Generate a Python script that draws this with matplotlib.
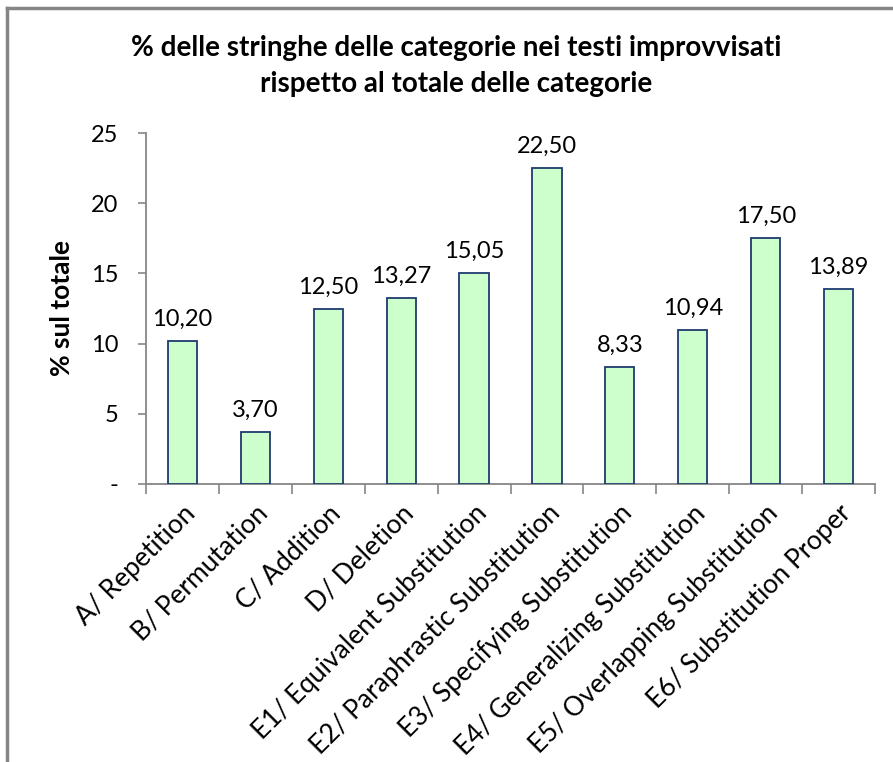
import matplotlib
matplotlib.use("Agg")
import matplotlib.pyplot as plt
from matplotlib.lines import Line2D
import numpy as np

categories = [
    "A/ Repetition",
    "B/ Permutation",
    "C/ Addition",
    "D/ Deletion",
    "E1/ Equivalent Substitution",
    "E2/ Paraphrastic Substitution",
    "E3/ Specifying Substitution",
    "E4/ Generalizing Substitution",
    "E5/ Overlapping Substitution",
    "E6/ Substitution Proper",
]
values = [10.20, 3.70, 12.50, 13.27, 15.05, 22.50, 8.33, 10.94, 17.50, 13.89]
y_ticks = [0, 5, 10, 15, 20, 25]
y_tick_labels = ["-", "5", "10", "15", "20", "25"]

title = "% delle stringhe delle categorie nei testi improvvisati\nrispetto al totale delle categorie"
y_label = "% sul totale"

plt.rcParams["font.family"] = ["Lato", "DejaVu Sans"]

fig = plt.figure(figsize=(8.93, 7.62), dpi=100)
ax = fig.add_axes([146 / 893, 278 / 762, (875 - 146) / 893, 351 / 762])

x = np.arange(len(categories))
ax.bar(x, values, width=0.4, color="#CCFFCC", edgecolor="#1F3A6E", linewidth=1.3, zorder=3)

for xi, v in zip(x, values):
    ax.annotate(f"{v:.2f}".replace(".", ","), (xi, v), xytext=(0, 8), textcoords="offset points",
                ha="center", va="bottom", fontsize=17)

ax.set_xlim(-0.5, len(categories) - 0.5)
ax.set_ylim(0, 25)
ax.set_yticks(y_ticks)
ax.set_yticklabels(y_tick_labels, fontsize=17)

# category separators as ticks on the x axis
ax.set_xticks(np.arange(len(categories) + 1) - 0.5)
ax.set_xticklabels([])
ax.set_xticks(x, minor=True)
ax.set_xticklabels(categories, minor=True, rotation=45, ha="right", rotation_mode="anchor", fontsize=19)
ax.tick_params(axis="x", which="major", length=7, width=1.2, color="#868686", direction="out")
ax.tick_params(axis="x", which="minor", length=0, pad=12)
ax.tick_params(axis="y", length=6, width=1.2, color="#868686", direction="out", pad=14)

for side in ["top", "right"]:
    ax.spines[side].set_visible(False)
for side in ["left", "bottom"]:
    ax.spines[side].set_color("#868686")
    ax.spines[side].set_linewidth(1.3)

ax.set_ylabel(y_label, fontsize=19, fontweight="bold", labelpad=12)
fig.text(0.5 + 10 / 893, 1 - 66 / 762, title, ha="center", va="center", fontsize=20,
         fontweight="bold", linespacing=1.45)

# outer chart frame
fig.add_artist(Line2D([7 / 893, 7 / 893], [0, 1 - 8 / 762], transform=fig.transFigure,
                      color="#868686", linewidth=2.5))
fig.add_artist(Line2D([7 / 893, 1], [1 - 8 / 762, 1 - 8 / 762], transform=fig.transFigure,
                      color="#868686", linewidth=2.5))

fig.savefig("out.png", dpi=100)
